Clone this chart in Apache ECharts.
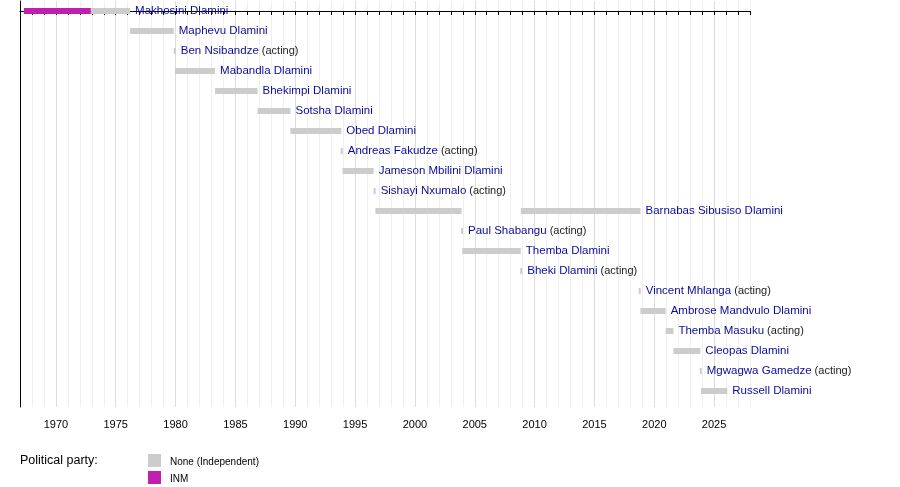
<!DOCTYPE html>
<html>
<head>
<meta charset="utf-8">
<script src="https://cdn.jsdelivr.net/npm/echarts@6/dist/echarts.min.js"></script>
<style>body{margin:0;background:#fff}#chart{width:900px;height:487px}</style>
</head>
<body>
<div id="chart"></div>
<script>
// prime ministers, one row each
var names = ['Makhosini Dlamini', 'Maphevu Dlamini', 'Ben Nsibandze', 'Mabandla Dlamini', 'Bhekimpi Dlamini',
	'Sotsha Dlamini', 'Obed Dlamini', 'Andreas Fakudze', 'Jameson Mbilini Dlamini', 'Sishayi Nxumalo',
	'Barnabas Sibusiso Dlamini', 'Paul Shabangu', 'Themba Dlamini', 'Bheki Dlamini', 'Vincent Mhlanga',
	'Ambrose Mandvulo Dlamini', 'Themba Masuku', 'Cleopas Dlamini', 'Mgwagwa Gamedze', 'Russell Dlamini'];
var acting = [false, false, true, false, false, false, false, true, false, true,
	false, true, false, true, true, false, true, false, true, false];
// terms: [row, start, end, party]
var terms = [
	[0, 1967.33, 1972.92, 'INM'], [0, 1972.92, 1976.2, 'None'],
	[1, 1976.2, 1979.85, 'None'], [2, 1979.85, 1979.95, 'None'],
	[3, 1979.95, 1983.3, 'None'], [4, 1983.3, 1986.85, 'None'],
	[5, 1986.85, 1989.6, 'None'], [6, 1989.6, 1993.85, 'None'],
	[7, 1993.8, 1993.95, 'None'], [8, 1993.95, 1996.55, 'None'],
	[9, 1996.55, 1996.7, 'None'], [10, 1996.7, 2003.9, 'None'],
	[10, 2008.85, 2018.85, 'None'], [11, 2003.85, 2003.95, 'None'],
	[12, 2003.95, 2008.85, 'None'], [13, 2008.8, 2008.9, 'None'],
	[14, 2018.7, 2018.8, 'None'], [15, 2018.85, 2020.95, 'None'],
	[16, 2020.95, 2021.6, 'None'], [17, 2021.6, 2023.85, 'None'],
	[18, 2023.8, 2023.9, 'None'], [19, 2023.9, 2026.1, 'None']
];
var partyColors = { 'None': '#cccccc', 'INM': '#c020b0' };

var chart = echarts.init(document.getElementById('chart'));

// name label goes after the last term of each row
var lastEnd = {};
terms.forEach(function(t) { lastEnd[t[0]] = Math.max(lastEnd[t[0]] || 0, t[2]); });

chart.setOption({
	animation: false,
	grid: { left: 20, right: 150, top: 1, bottom: 80 },
	xAxis: {
		type: 'value', min: 1967, max: 2028, interval: 1,
		axisLine: { lineStyle: { color: '#000' } },
		axisTick: { inside: false, length: 4, lineStyle: { color: '#000' } },
		axisLabel: {
			color: '#000', fontSize: 11, fontFamily: 'Liberation Sans', margin: 12,
			formatter: function(v) { return v % 5 === 0 ? v : ''; }
		},
		splitLine: {
			show: true,
			// cycle starts at 1967; every fifth year (1970, 1975...) a bit darker
			lineStyle: { color: ['#efefef', '#efefef', '#efefef', '#dcdcdc', '#efefef'] }
		}
	},
	yAxis: {
		type: 'value', min: -0.5, max: 19.8, inverse: true,
		axisLine: { show: true, onZero: false, lineStyle: { color: '#000' } },
		axisTick: { show: false }, axisLabel: { show: false }, splitLine: { show: false }
	},
	series: [{
		type: 'custom',
		data: terms,
		encode: { x: [1, 2], y: 0 },
		renderItem: function(params, api) {
			var row = api.value(0);
			var a = api.coord([api.value(1), row]);
			var b = api.coord([api.value(2), row]);
			var party = terms[params.dataIndex][3];
			var children = [{
				type: 'rect',
				shape: { x: a[0], y: a[1] - 3, width: Math.max(b[0] - a[0], 2), height: 6 },
				style: { fill: partyColors[party] }
			}];
			if (api.value(2) === lastEnd[row]) {
				children.push({
					type: 'text',
					x: Math.max(b[0], a[0] + 2) + 5, y: a[1],
					style: {
						text: '{n|' + names[row] + '}' + (acting[row] ? '{a| (acting)}' : ''),
						verticalAlign: 'middle',
						rich: {
							n: { fill: '#0b0b9a', fontSize: 11.5, fontFamily: 'Liberation Sans' },
							a: { fill: '#222', fontSize: 11, fontFamily: 'Liberation Sans' }
						}
					}
				});
			}
			return { type: 'group', children: children };
		}
	}],
	graphic: [
		{ type: 'text', left: 20, top: 454, style: { text: 'Political party:', fontSize: 12.5, fontFamily: 'Liberation Sans', fill: '#000' } },
		{ type: 'rect', left: 148, top: 454, shape: { width: 13, height: 13 }, style: { fill: partyColors['None'] } },
		{ type: 'text', left: 170, top: 457, style: { text: 'None (Independent)', fontSize: 10, fontFamily: 'Liberation Sans', fill: '#000' } },
		{ type: 'rect', left: 148, top: 471, shape: { width: 13, height: 13 }, style: { fill: partyColors['INM'] } },
		{ type: 'text', left: 170, top: 474, style: { text: 'INM', fontSize: 10, fontFamily: 'Liberation Sans', fill: '#000' } }
	]
});
</script>
</body>
</html>
